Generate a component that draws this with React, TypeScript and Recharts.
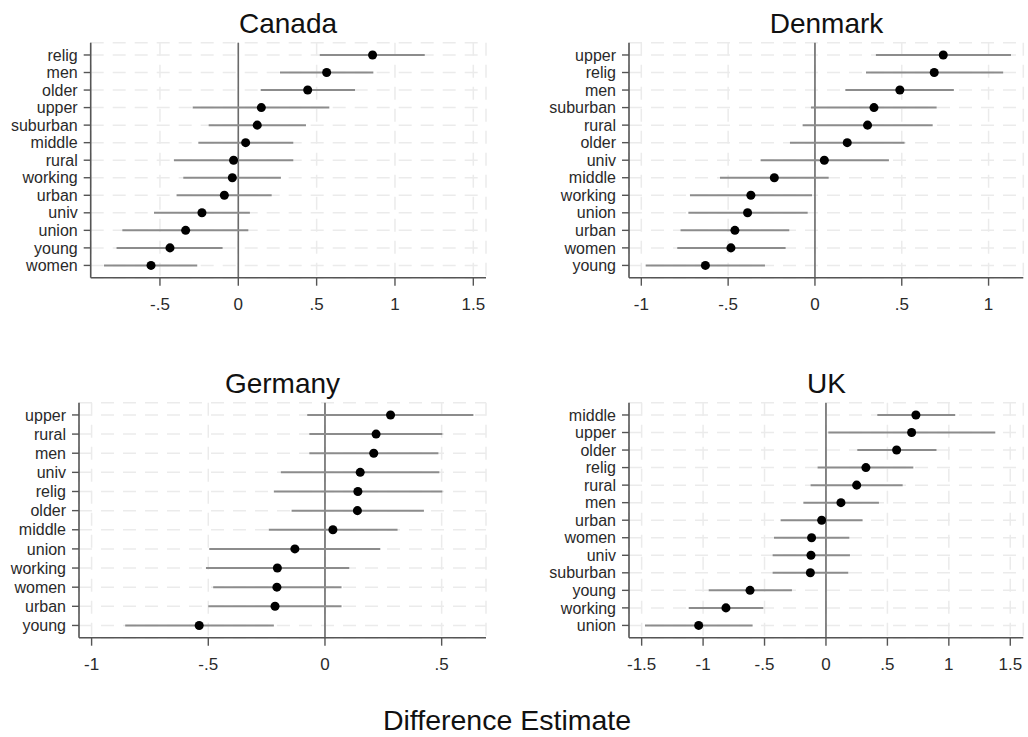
import React from 'react';
import { ScatterChart, Scatter, XAxis, YAxis, CartesianGrid, ErrorBar, ReferenceLine, ZAxis } from 'recharts';

// ---------- Canada ----------
const canadaCats = ['relig', 'men', 'older', 'upper', 'suburban', 'middle', 'rural', 'working', 'urban', 'univ', 'union', 'young', 'women'];
const canadaEst = [0.857, 0.564, 0.443, 0.147, 0.121, 0.047, -0.03, -0.038, -0.089, -0.232, -0.336, -0.436, -0.557];
const canadaLo = [0.52, 0.266, 0.143, -0.291, -0.189, -0.255, -0.411, -0.351, -0.394, -0.538, -0.74, -0.777, -0.857];
const canadaHi = [1.19, 0.862, 0.745, 0.581, 0.432, 0.351, 0.351, 0.272, 0.213, 0.074, 0.064, -0.1, -0.262];
const canadaTicks = [-0.5, 0, 0.5, 1, 1.5];

// ---------- Denmark ----------
const denmarkCats = ['upper', 'relig', 'men', 'suburban', 'rural', 'older', 'univ', 'middle', 'working', 'union', 'urban', 'women', 'young'];
const denmarkEst = [0.739, 0.687, 0.489, 0.34, 0.303, 0.186, 0.054, -0.234, -0.369, -0.388, -0.461, -0.484, -0.631];
const denmarkLo = [0.351, 0.294, 0.175, -0.023, -0.071, -0.144, -0.313, -0.547, -0.72, -0.729, -0.774, -0.793, -0.975];
const denmarkHi = [1.129, 1.084, 0.8, 0.701, 0.678, 0.516, 0.426, 0.079, -0.017, -0.042, -0.148, -0.169, -0.288];
const denmarkTicks = [-1, -0.5, 0, 0.5, 1];

// ---------- Germany ----------
const germanyCats = ['upper', 'rural', 'men', 'univ', 'relig', 'older', 'middle', 'union', 'working', 'women', 'urban', 'young'];
const germanyEst = [0.281, 0.219, 0.209, 0.151, 0.141, 0.139, 0.034, -0.129, -0.204, -0.206, -0.214, -0.539];
const germanyLo = [-0.076, -0.067, -0.067, -0.189, -0.219, -0.143, -0.241, -0.496, -0.51, -0.479, -0.5, -0.856];
const germanyHi = [0.636, 0.503, 0.486, 0.49, 0.503, 0.424, 0.311, 0.237, 0.104, 0.071, 0.071, -0.219];
const germanyTicks = [-1, -0.5, 0, 0.5];

// ---------- UK ----------
const ukCats = ['middle', 'upper', 'older', 'relig', 'rural', 'men', 'urban', 'women', 'univ', 'suburban', 'young', 'working', 'union'];
const ukEst = [0.732, 0.697, 0.575, 0.325, 0.25, 0.122, -0.035, -0.117, -0.122, -0.127, -0.618, -0.814, -1.036];
const ukLo = [0.418, 0.019, 0.255, -0.068, -0.125, -0.184, -0.369, -0.423, -0.434, -0.434, -0.955, -1.117, -1.473];
const ukHi = [1.052, 1.378, 0.9, 0.711, 0.624, 0.431, 0.298, 0.19, 0.195, 0.182, -0.277, -0.51, -0.597];
const ukTicks = [-1.5, -1, -0.5, 0, 0.5, 1, 1.5];

const FONT = '"Liberation Sans", Arial, Helvetica, sans-serif';

const fmt = (v: number) => String(v).replace(/^(-?)0\./, '$1.');

type PanelProps = {
  cats: string[];
  est: number[];
  lo: number[];
  hi: number[];
  ticks: number[];
  domain: [number, number];
  pad: number;
  left: number;
  top: number;
  width: number;
  yw: number;
  plotLeft: number;
  plotRight: number;
};

function Panel(p: PanelProps) {
  const data = p.cats.map((c, i) => ({
    name: c,
    y: i,
    x: p.est[i],
    err: [p.est[i] - p.lo[i], p.hi[i] - p.est[i]],
  }));
  const height = 320;
  const xh = 40;
  const plotTop = 42.7;
  const plotBottom = 277.7;
  return (
    <div style={{ position: 'absolute', left: p.left, top: p.top, width: p.width, height }}>
      <ScatterChart
        width={p.width}
        height={height}
        margin={{ top: plotTop, right: p.width - p.plotRight, bottom: height - plotBottom - xh, left: p.plotLeft - p.yw }}
      >
        <CartesianGrid stroke="#ebebeb" strokeWidth={1.5} strokeDasharray="13 9" />
        <XAxis
          type="number"
          dataKey="x"
          domain={p.domain}
          allowDataOverflow
          ticks={p.ticks}
          interval={0}
          tickFormatter={fmt}
          height={xh}
          tickSize={8}
          tickMargin={12}
          axisLine={{ stroke: '#555', strokeWidth: 1.6 }}
          tickLine={{ stroke: '#555', strokeWidth: 1.4 }}
          tick={{ fill: '#2a2a2a', fontSize: 17, fontFamily: FONT }}
        />
        <YAxis
          type="number"
          dataKey="y"
          domain={[-p.pad, p.cats.length - 1 + p.pad]}
          allowDataOverflow
          reversed
          ticks={p.cats.map((_, i) => i)}
          interval={0}
          tickFormatter={(i: number) => p.cats[i]}
          width={p.yw}
          tickSize={7}
          tickMargin={6}
          axisLine={{ stroke: '#555', strokeWidth: 1.6 }}
          tickLine={{ stroke: '#555', strokeWidth: 1.4 }}
          tick={{ fill: '#2a2a2a', fontSize: 16, fontFamily: FONT }}
        />
        <ZAxis range={[64, 64]} />
        <ReferenceLine x={0} stroke="#6a6a6a" strokeWidth={1.6} />
        <Scatter data={data} fill="#000" isAnimationActive={false}>
          <ErrorBar dataKey="err" direction="x" width={0} stroke="#8c8c8c" strokeWidth={2} isAnimationActive={false} />
        </Scatter>
      </ScatterChart>
    </div>
  );
}

export default function App() {
  return (
    <div style={{ position: 'absolute', left: 0, top: 0, width: 1028, height: 737, background: '#fff', fontFamily: FONT }}>
      <Panel cats={canadaCats} est={canadaEst} lo={canadaLo} hi={canadaHi} ticks={canadaTicks}
        domain={[-0.942, 1.581]} pad={0.7} left={0} top={0} width={500} yw={90} plotLeft={90.7} plotRight={486} />
      <Panel cats={denmarkCats} est={denmarkEst} lo={denmarkLo} hi={denmarkHi} ticks={denmarkTicks}
        domain={[-1.071, 1.2]} pad={0.7} left={510} top={0} width={518} yw={110} plotLeft={119} plotRight={513.3} />
      <Panel cats={germanyCats} est={germanyEst} lo={germanyLo} hi={germanyHi} ticks={germanyTicks}
        domain={[-1.054, 0.69]} pad={0.64} left={0} top={360} width={500} yw={70} plotLeft={79} plotRight={486} />
      <Panel cats={ukCats} est={ukEst} lo={ukLo} hi={ukHi} ticks={ukTicks}
        domain={[-1.603, 1.606]} pad={0.7} left={510} top={360} width={518} yw={110} plotLeft={119} plotRight={513.3} />
      <svg width={1028} height={737} style={{ position: 'absolute', left: 0, top: 0, pointerEvents: 'none' }}>
        <g fontFamily={FONT} fill="#111" textAnchor="middle">
          <text x={288} y={33} fontSize={28}>Canada</text>
          <text x={826.5} y={33} fontSize={28}>Denmark</text>
          <text x={282.5} y={392.5} fontSize={28}>Germany</text>
          <text x={826.5} y={392.5} fontSize={28}>UK</text>
          <text x={507} y={730} fontSize={28.5}>Difference Estimate</text>
        </g>
      </svg>
    </div>
  );
}
